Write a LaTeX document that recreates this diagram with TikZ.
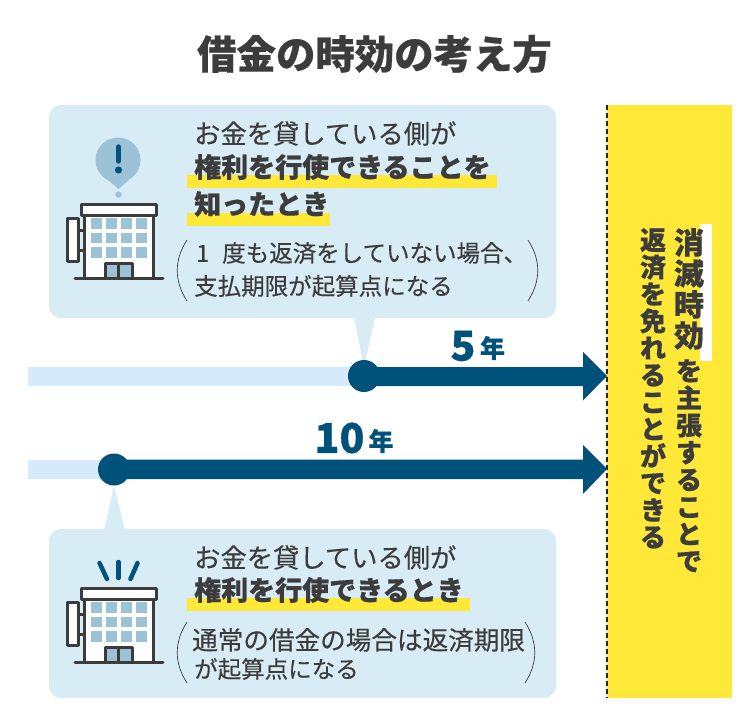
\documentclass[tikz,border=0pt]{standalone}
\usepackage{fontspec}
\setmainfont[FakeBold=0.25,BoldFeatures={FakeBold=0.6}]{Noto Sans CJK JP}
\usetikzlibrary{calc}
\definecolor{inkgray}{HTML}{3C3C3C}
\definecolor{navy}{HTML}{00527A}
\definecolor{boxblue}{HTML}{D8ECF5}
\definecolor{barblue}{HTML}{D5EBFC}
\definecolor{winblue}{HTML}{9BC2D6}
\definecolor{marker}{HTML}{FFE838}
\tikzset{
    infobox/.style={fill=boxblue,rounded corners=12pt},
    highlight/.style={fill=marker},
    bodytext/.style={anchor=west,inner sep=0pt,text=inkgray},
    strongtext/.style={bodytext,font=\fontsize{27}{27}\selectfont\bfseries},
    plaintext/.style={bodytext,font=\fontsize{26.3}{26}\selectfont},
    notetext/.style={bodytext,font=\fontsize{23.5}{23.5}\selectfont},
    yearnum/.style={inner sep=0pt,text=navy,font=\fontsize{41}{41}\selectfont\bfseries},
    yearunit/.style={inner sep=0pt,text=navy,font=\fontsize{25}{25}\selectfont\bfseries},
    bracket/.style={line width=0.7pt,draw=inkgray},
    pics/office/.style={code={
        \draw [line width=3pt,draw=inkgray,fill=white] (84,215) rectangle (153,278);
        \foreach \col in {0,1,2,3}
            \foreach \row in {0,1,2}
                \fill [winblue] (91+\col*15,218+\row*14.6) rectangle ++(10.5,10.5);
        \draw [line width=3pt,draw=inkgray,fill=white] (81,204) rectangle (156,215);
        \draw [line width=3pt,draw=inkgray,fill=white] (67,218) rectangle (78,261);
        \draw [line width=3pt,draw=inkgray] (78,230)-- (84,230);
        \draw [line width=3pt,draw=inkgray] (78,250)-- (84,250);
        \draw [line width=3pt,draw=inkgray,fill=winblue] (105,263) rectangle (132,278);
        \draw [line width=3pt,draw=inkgray] (118.5,263)-- (118.5,278);
        \draw [line width=3pt,draw=inkgray,line cap=round] (75,278)-- (163,278);
    }},
}
\newcommand{\bracketpair}[4]{%
    \draw [bracket] (#1,#3) .. controls (#1-13,#3+20) and (#1-13,#4-20) .. (#1,#4);
    \draw [bracket] (#2,#3) .. controls (#2+13,#3+20) and (#2+13,#4-20) .. (#2,#4);
}
\begin{document}
\begin{tikzpicture}[line cap=butt,line join=round,x=1pt,y=-1pt]
    \useasboundingbox (0,0) rectangle (750,725);
    \node [inner sep=0pt,text=inkgray,font=\fontsize{39.4}{39.4}\selectfont\bfseries] (title) at (374.5,54) {借金の時効の考え方};
    % yellow panel
    \fill [marker] (607,105) rectangle (732,698);
    \draw [line width=2.2pt,draw=inkgray!60!black,dash pattern=on 5pt off 3pt] (607,105)-- (607,698);
    \fill [white] (700,224) rectangle (712,361);
    \node [inner sep=0pt,text=inkgray,align=center,anchor=north,font=\fontsize{30}{31}\selectfont\bfseries] (rightA) at (689,228) {消\\滅\\時\\効};
    \node [inner sep=0pt,text=inkgray,align=center,anchor=north,font=\fontsize{26}{27.2}\selectfont\bfseries] (rightB) at (689,359) {を\\主\\張\\す\\る\\こ\\と\\で};
    \node [inner sep=0pt,text=inkgray,align=center,anchor=north,font=\fontsize{26}{27}\selectfont\bfseries] (rightC) at (653,228) {返\\済\\を\\免\\れ\\る\\こ\\と\\が\\で\\き\\る};
    % top box
    \fill [infobox] (49,105) rectangle (556,318);
    \fill [boxblue] (354,317)-- (364,368)-- (375,317)-- cycle;
    \fill [highlight] (187,175) rectangle (497,188);
    \fill [highlight] (187,213) rectangle (330,226);
    \node [plaintext] (topA) at (194,133.5) {お金を貸している側が};
    \node [strongtext] (topB) at (194,167) {権利を行使できることを};
    \node [strongtext] (topC) at (194,204) {知ったとき};
    \node [notetext] (topD) at (196,253) {1\hspace{13pt}度も返済をしていない場合、};
    \node [notetext] (topE) at (194,286) {支払期限が起算点になる};
    \bracketpair{187}{528}{240}{301}
    \pic at (0,0) {office};
    \fill [winblue] (118,160) circle (22.5);
    \fill [winblue] (108,180)-- (118.5,189)-- (129,180)-- cycle;
    \fill [winblue] (118.5,194.5) circle (3.2);
    \draw [line width=5.5pt,draw=navy,line cap=round] (118.5,147)-- (118.5,161);
    \fill [navy] (118.5,170) circle (3.6);
    % time bars
    \fill [barblue] (28,367) rectangle (364,386);
    \fill [navy] (364,367)-- (583,367)-- (583,352)-- (607,376)-- (583,400.5)-- (583,386)-- (364,386)-- cycle;
    \fill [navy] (364,376) circle (16);
    \node [yearnum] (fiveNum) at (463,346) {5};
    \node [yearunit] (fiveUnit) at (492.5,348) {年};
    \fill [barblue] (28,459.5) rectangle (114,479);
    \fill [navy] (114,459.5)-- (583,459.5)-- (583,445)-- (607,469)-- (583,494)-- (583,479)-- (114,479)-- cycle;
    \fill [navy] (114,469.5) circle (16);
    \node [yearnum] (tenNum) at (339.5,438) {10};
    \node [yearunit] (tenUnit) at (381,441) {年};
    % bottom box
    \fill [infobox] (49,529) rectangle (556,698);
    \fill [boxblue] (104,530)-- (114,486)-- (125,530)-- cycle;
    \fill [highlight] (187,598) rectangle (470,611);
    \node [plaintext] (botA) at (194,557.5) {お金を貸している側が};
    \node [strongtext] (botB) at (194,590) {権利を行使できるとき};
    \node [notetext,font=\fontsize{25.6}{25.6}\selectfont] (botC) at (192,640) {通常の借金の場合は返済期限};
    \node [notetext] (botD) at (194,669) {が起算点になる};
    \bracketpair{187}{525}{622}{683}
    \pic at (0,384) {office};
    \draw [line width=4.5pt,draw=navy,line cap=round] (99.5,563)-- (107,579);
    \draw [line width=4.5pt,draw=navy,line cap=round] (118.5,562)-- (118.5,578);
    \draw [line width=4.5pt,draw=navy,line cap=round] (137.5,563)-- (130.5,579);
\end{tikzpicture}
\end{document}
